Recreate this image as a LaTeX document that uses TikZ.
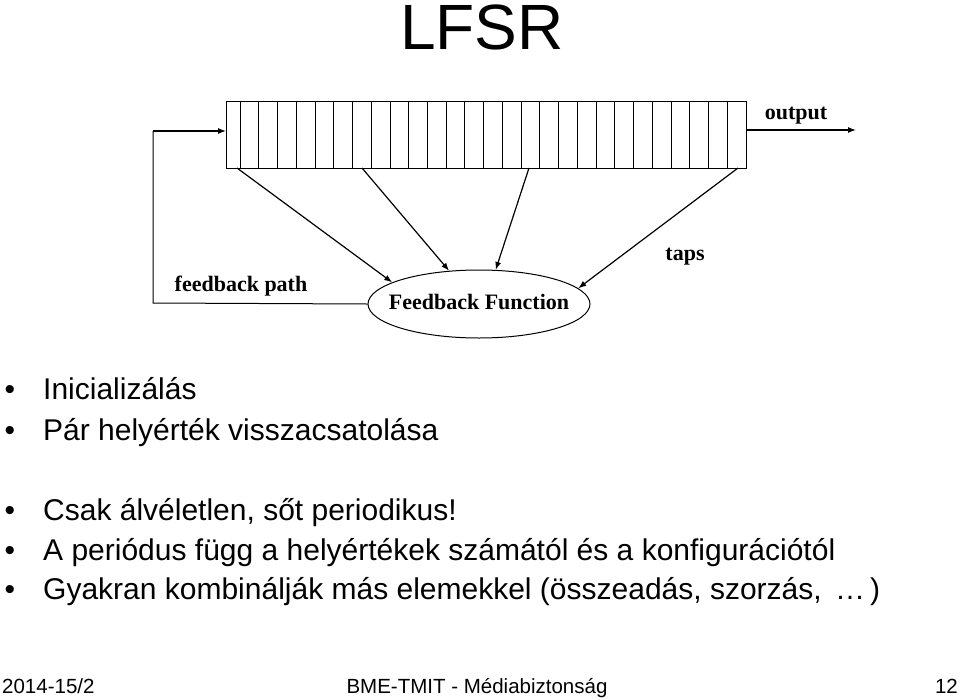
\documentclass[tikz,border=0pt]{standalone}
\usepackage{fontspec}
\setmainfont{Liberation Sans}
\newfontfamily\diagfont{Liberation Serif}
\usetikzlibrary{arrows.meta,shapes.geometric,calc}
\tikzset{
  lbl/.style={font=\diagfont\bfseries\fontsize{22}{26}\selectfont, inner sep=0pt},
  bul/.style={font=\fontsize{30}{36}\selectfont, inner sep=0pt, anchor=base west},
  dot/.style={font=\fontsize{30}{36}\selectfont, inner sep=0pt, anchor=base},
  foot/.style={font=\fontsize{20.5}{24}\selectfont, inner sep=0pt},
  arr/.style={line width=1.2pt, -{Latex[length=8pt,width=6pt]}},
  plain/.style={line width=1pt},
}
\begin{document}
\begin{tikzpicture}[x=1pt,y=-1pt]
\useasboundingbox (0,0) rectangle (960,699);
% title
\node[font=\fontsize{64}{72}\selectfont, inner sep=0pt, anchor=base] (title) at (482,49) {LFSR};
% register
\node[draw, line width=1pt, minimum width=520pt, minimum height=67pt, inner sep=0pt] (reg) at (486,134.5) {};
\draw[line width=0.8pt] (240,101) -- (240,168);
\foreach \k in {1,...,26} {
  \draw[line width=0.8pt] ({240+18.74*\k},101) -- ({240+18.74*\k},168);
}
% ellipse
\node[ellipse, draw, line width=1pt, minimum width=222pt, minimum height=68pt, inner sep=0pt] (ff) at (479,304) {};
\node[lbl] (fftxt) at (479,302) {Feedback Function};
% labels
\node[lbl] (outl) at (796,116) {output};
\node[lbl] (fbl) at (241,286) {feedback path};
\node[lbl] (tapl) at (685,257) {taps};
% coordinates
\coordinate (inarr) at (226,131);
\coordinate (outs) at (746,130);
\coordinate (oute) at (856,130);
\coordinate (t1) at (237,168);
\coordinate (t2) at (362,168);
\coordinate (t3) at (529,168);
\coordinate (t4) at (738,168);
\coordinate (c1) at (153,303);
\coordinate (c2) at (153,131);
% connectors
\draw[arr] (outs) -- (oute);
\draw[arr] (t1) -- (ff.166);
\draw[arr] (t2) -- (ff.132);
\draw[arr] (t3) -- (ff.64);
\draw[arr] (t4) -- (ff.9);
\draw[line width=1pt] (ff.west) -- (c1) -- (c2);
\draw[arr] (c2) -- (inarr);
% bullets
\foreach \y/\t in {399/{Inicializálás}, 440/{Pár helyérték visszacsatolása}, 520/{Csak álvéletlen, sőt periodikus!}, 560/{A periódus függ a helyértékek számától és a konfigurációtól}, 599/{Gyakran kombinálják más elemekkel (összeadás, szorzás, \,…\,)}} {
  \node[dot] at (10,\y) {•};
  \node[bul] at (43,\y) {\t};
}
% footer
\node[foot, anchor=base west] (f1) at (2,693) {2014-15/2};
\node[foot, anchor=base] (f2) at (477,693) {BME-TMIT - Médiabiztonság};
\node[foot, anchor=base east] (f3) at (958,693) {12};
\end{tikzpicture}
\end{document}
